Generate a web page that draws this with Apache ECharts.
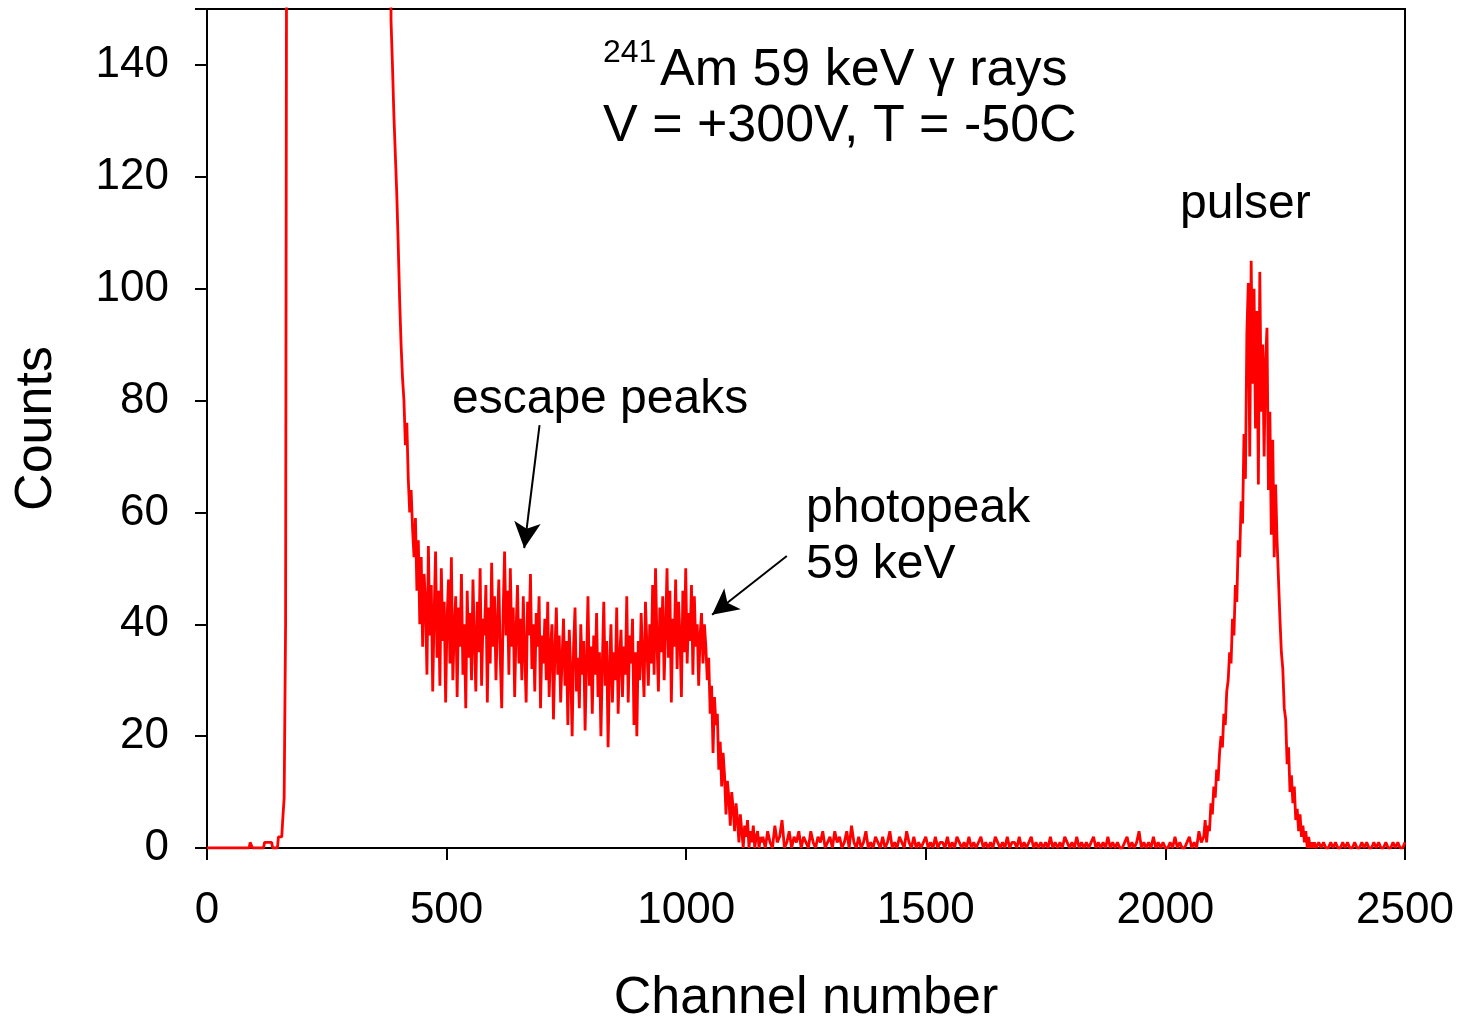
<!DOCTYPE html>
<html>
<head>
<meta charset="utf-8">
<script src="https://cdn.jsdelivr.net/npm/echarts@6/dist/echarts.min.js"></script>
<style>
html,body{margin:0;padding:0;background:#fff;}
#chart{width:1462px;height:1019px;}
</style>
</head>
<body>
<div id="chart"></div>
<script>
// ---- Data (counts) ----
// low-channel region: explicit channel / count pairs (values above 150 run off the top)
var lowChannels = [0, 88, 90, 93, 95, 118, 120, 135, 137, 147, 149, 156, 158, 161, 164, 166, 168, 170, 380];
var lowCounts   = [0, 0, 1, 1, 0, 0, 1, 1, 0, 0, 2, 2, 5, 9, 40, 160, 400, 400, 400];

// continuum + escape peaks + photopeak: channels 384..1158, every 3 channels
var bandStart = 384, bandStep = 3;
var bandCounts = [
  148,140,131,124,117,108,98,90,84,80,72,76,66,60,64,57,52,59,46,55,
  40,52,36,49,44,31,54,38,47,28,42,53,34,46,29,50,37,44,26,41,
  48,33,52,30,39,45,27,43,36,49,31,40,25,46,34,42,30,48,37,28,
  44,35,50,29,41,38,47,26,43,33,51,36,45,30,40,48,34,25,42,53,
  38,46,31,50,36,43,27,39,47,33,41,30,45,35,26,44,38,49,32,40,
  28,42,36,45,25,38,33,41,30,44,27,36,40,23,35,43,31,38,26,34,
  41,29,37,22,39,32,20,36,43,28,34,25,40,31,37,21,33,45,29,36,
  24,38,31,42,27,35,20,33,44,29,37,18,32,40,26,35,30,43,24,34,
  39,27,36,31,45,26,38,33,41,22,35,20,37,30,42,34,27,44,36,29,
  40,33,47,31,50,37,28,43,35,45,30,39,50,34,46,26,41,36,48,32,
  44,38,27,46,35,50,33,42,37,47,31,45,36,40,29,38,42,33,40,36,
  30,34,24,29,17,27,22,24,14,19,11,17,13,6,12,9,4,10,7,3,
  8,5,1,6,3,0,4,2,5,0,3,1,4,0,2,3,0,2,1
];

// flat background: channels 1160..2075, every 5 channels
var flatStart = 1160, flatStep = 5;
var flatCounts = [
  2,0,3,1,0,4,1,2,5,0,1,3,0,2,1,3,0,2,1,0,
  3,1,0,2,1,3,0,1,2,0,3,1,2,0,1,3,0,4,1,0,
  2,0,1,3,0,1,0,2,1,0,2,0,1,3,0,1,0,2,1,0,
  3,1,0,2,0,1,0,1,2,0,1,0,2,0,1,1,0,2,0,1,
  0,2,1,0,1,0,2,0,1,0,1,2,0,1,0,1,0,2,1,0,
  1,0,2,0,1,1,0,2,0,1,0,1,2,0,1,0,1,0,1,0,
  2,0,1,0,1,0,2,1,0,1,0,2,0,1,0,1,0,1,2,0,
  1,0,1,0,2,0,1,0,1,0,0,1,2,0,1,0,1,3,0,1,
  0,1,0,2,0,1,0,1,0,0,1,0,2,0,1,0,0,1,2,0,
  1,0,3,1
];

// pulser peak: channels 2080..2320, every 3 channels
var pulserStart = 2080, pulserStep = 3;
var pulserCounts = [
  2,5,1,4,3,8,6,11,9,14,12,17,20,18,24,22,28,30,35,33,
  41,38,47,44,55,52,62,58,74,66,92,101,70,105,83,100,75,96,65,103,
  78,90,70,87,93,64,78,56,73,52,65,55,48,41,35,32,25,23,15,18,
  10,13,8,11,5,7,3,6,2,4,1,3,0,2,0,1,0,1,0,0,1
];

// tail: channels 2325..2500, every 5 channels
var tailStart = 2325, tailStep = 5;
var tailCounts = [0,1,0,0,1,0,1,0,0,1,0,1,0,0,1,0,0,1,0,1,0,0,1,0,1,0,0,1,0,0,1,0,1,0,0,1];

var xTicks = {min: 0, max: 2500, interval: 500};
var yTicks = {min: 0, max: 150, interval: 20};

// ---- build series points ----
var points = [];
lowChannels.forEach(function (c, i) { points.push([c, lowCounts[i]]); });
function addSeg(start, step, arr) { arr.forEach(function (v, i) { points.push([start + i * step, v]); }); }
addSeg(bandStart, bandStep, bandCounts);
addSeg(flatStart, flatStep, flatCounts);
addSeg(pulserStart, pulserStep, pulserCounts);
addSeg(tailStart, tailStep, tailCounts);

var FONT = 'Liberation Sans, Arial, sans-serif';
var chart = echarts.init(document.getElementById('chart'), null, {renderer: 'canvas'});
var option = {
  animation: false,
  backgroundColor: '#fff',
  grid: {left: 207, right: 57, top: 9, bottom: 171, show: true, borderColor: '#000', borderWidth: 2,
    backgroundColor: 'transparent', containLabel: false, outerBoundsMode: 'none'},
  xAxis: {
    type: 'value', min: xTicks.min, max: xTicks.max, interval: xTicks.interval,
    name: 'Channel number', nameLocation: 'middle', nameGap: 125,
    nameTextStyle: {fontSize: 52, color: '#000', fontFamily: FONT},
    axisLine: {show: true, lineStyle: {color: '#000', width: 2}},
    axisTick: {show: true, inside: false, length: 12, lineStyle: {color: '#000', width: 2}},
    axisLabel: {fontSize: 44, color: '#000', fontFamily: FONT, margin: 41,
      formatter: function (v) { return String(v); }},
    splitLine: {show: false}
  },
  yAxis: {
    type: 'value', min: yTicks.min, max: yTicks.max, interval: yTicks.interval,
    name: 'Counts', nameLocation: 'middle', nameGap: 144,
    nameTextStyle: {fontSize: 52, color: '#000', fontFamily: FONT},
    axisLine: {show: true, lineStyle: {color: '#000', width: 2}},
    axisTick: {show: true, inside: false, length: 12, lineStyle: {color: '#000', width: 2}},
    axisLabel: {fontSize: 44, color: '#000', fontFamily: FONT, margin: 38,
      formatter: function (v) { return v === 150 ? '' : String(v); }},
    splitLine: {show: false}
  },
  series: [{
    type: 'line',
    data: points,
    showSymbol: false,
    symbol: 'none',
    clip: true,
    sampling: null,
    lineStyle: {color: '#ff0000', width: 2.8},
    markLine: {
      silent: true,
      symbol: ['none', 'arrow'],
      symbolSize: [20, 26],
      label: {show: false},
      lineStyle: {color: '#000', width: 2, type: 'solid'},
      emphasis: {disabled: true},
      data: [
        [{coord: [694, 75.6]}, {coord: [662, 53.6]}],
        [{coord: [1210, 52.2]}, {coord: [1054, 41.7]}]
      ]
    }
  }],
  graphic: [
    {type: 'text', left: 603, top: 37, style: {text: '241', font: '32px ' + FONT, fill: '#000'}},
    {type: 'text', left: 660, top: 45, style: {text: 'Am 59 keV \u03b3 rays', font: '52px ' + FONT, fill: '#000'}},
    {type: 'text', left: 603, top: 101, style: {text: 'V = +300V, T = -50C', font: '52px ' + FONT, fill: '#000'}},
    {type: 'text', left: 1180, top: 181, style: {text: 'pulser', font: '48px ' + FONT, fill: '#000'}},
    {type: 'text', left: 452, top: 376, style: {text: 'escape peaks', font: '48px ' + FONT, fill: '#000'}},
    {type: 'text', left: 806, top: 485, style: {text: 'photopeak', font: '48px ' + FONT, fill: '#000'}},
    {type: 'text', left: 806, top: 541, style: {text: '59 keV', font: '48px ' + FONT, fill: '#000'}}
  ]
};
chart.setOption(option);
</script>
</body>
</html>
